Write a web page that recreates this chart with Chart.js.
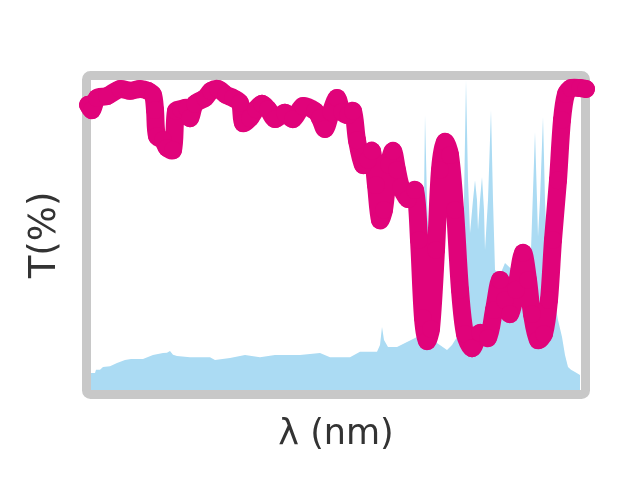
<!DOCTYPE html>
<html lang="en">
<head>
    <meta charset="UTF-8">
    <title>Transmission and spectrum</title>
    <script src="https://cdn.jsdelivr.net/npm/chart.js"></script>
    <style>
        html, body { margin: 0; padding: 0; background: #fff; }
        canvas { display: block; }
    </style>
</head>
<body>
    <canvas id="myChart" width="640" height="480"></canvas>

    <script>
        // Transmission curve (magenta), wavelength in nm and T in %
        const transWl = [397, 401, 406, 416, 429, 439, 449, 457, 462, 464, 466, 472, 476, 482, 485, 490, 496, 499, 504,
            514, 520, 527, 535, 542, 549, 552, 559, 565, 571, 577, 584, 594, 602, 612, 624, 629, 634, 640, 646,
            651, 657, 662, 666, 672, 677, 681, 685, 689, 693, 698, 702, 706, 710, 717, 724, 728, 732, 736, 740,
            745, 749, 754, 759, 764, 769, 774, 781, 789, 797, 803, 809, 814, 819, 825, 832, 837, 841, 847, 853,
            858, 862, 867, 871, 875, 880, 889, 895];
        const transT = [92.0, 90.3, 94.2, 94.8, 97.1, 96.5, 97.1, 96.5, 95.2, 90.3, 81.9, 80.6, 78.1, 77.4, 90.0, 90.6, 91.0, 87.7, 92.3,
            94.2, 96.5, 97.1, 95.2, 94.2, 92.6, 86.1, 87.7, 90.6, 92.3, 90.6, 87.4, 89.4, 87.4, 91.6, 90.0, 87.7, 84.2, 89.7, 94.2,
            89.7, 88.7, 90.0, 80.6, 72.6, 74.2, 77.1, 66.1, 54.8, 58.1, 72.6, 77.1, 71.0, 65.5, 61.6, 64.5, 48.4, 23.2, 15.8, 19.7,
            45.2, 71.0, 80.0, 75.8, 58.1, 32.3, 18.1, 13.5, 18.4, 16.8, 25.8, 35.5, 29.0, 24.5, 32.3, 44.2, 35.5, 24.5, 16.1, 18.1,
            29.0, 48.4, 67.7, 87.1, 95.5, 97.4, 97.4, 97.1];

        // Emission spectrum (light blue area), same axes
        const specWl = [400, 404, 405, 409, 412, 419, 426, 434, 440, 452, 462, 472, 476, 479, 482, 486, 499, 519, 524, 539,
            554, 569, 584, 609, 629, 639, 659, 669, 686, 689, 691, 693, 697, 706, 716, 726, 730, 733, 734, 736,
            739, 743, 746, 756, 761, 766, 769, 771, 773, 775, 777, 779, 782, 784, 786, 787, 789, 791, 793, 794,
            797, 800, 802, 804, 809, 814, 819, 824, 831, 837, 840, 844, 846, 847, 849, 852, 854, 856, 860, 864,
            867, 871, 874, 877, 880, 884, 889];
        const specI = [5.5, 5.5, 6.5, 6.5, 7.4, 7.7, 8.7, 9.7, 10.0, 10.0, 11.3, 11.9, 12.0, 12.6, 11.4, 11.0, 10.6, 10.6, 9.7, 10.3,
            11.3, 10.6, 11.3, 11.3, 11.9, 10.6, 10.6, 12.3, 12.3, 14.5, 20.3, 16.1, 13.9, 13.9, 15.5, 17.1, 22.6, 61.3, 88.7, 61.3,
            38.7, 19.4, 15.2, 12.9, 14.5, 17.1, 22.6, 29.0, 61.3, 100, 67.7, 50.6, 61.3, 67.7, 61.3, 51.6, 61.3, 68.7, 58.1, 45.2,
            61.3, 90.3, 61.3, 38.7, 37.1, 41.0, 39.4, 38.7, 38.7, 33.2, 45.2, 83.2, 61.3, 49.4, 61.3, 88.1, 61.3, 44.2, 35.5, 28.1,
            22.6, 17.1, 11.3, 7.4, 6.5, 5.8, 4.8];

        const wlMin = 400;
        const wlMax = 890;

        // grey rounded frame around the plot area, under the data
        const framePlugin = {
            id: 'frame',
            beforeDatasetsDraw(chart) {
                const { ctx, chartArea } = chart;
                const w = 9;
                const x = chartArea.left - w / 2;
                const y = chartArea.top - w / 2;
                const width = chartArea.right - chartArea.left + w;
                const height = chartArea.bottom - chartArea.top + w;
                ctx.save();
                ctx.strokeStyle = '#c8c8c8';
                ctx.lineWidth = w;
                ctx.beginPath();
                ctx.roundRect(x, y, width, height, 4);
                ctx.stroke();
                ctx.restore();
            }
        };

        const magenta = '#e0037a';

        const ctx = document.getElementById('myChart').getContext('2d');
        const myChart = new Chart(ctx, {
            type: 'line',
            data: {
                datasets: [
                    {
                        label: 'T',
                        data: transWl.map((w, i) => ({ x: w, y: transT[i] })),
                        borderColor: magenta,
                        borderWidth: 18,
                        borderCapStyle: 'round',
                        borderJoinStyle: 'round',
                        pointRadius: 9,
                        pointBorderWidth: 0,
                        pointBackgroundColor: magenta,
                        pointBorderColor: magenta,
                        tension: 0.3,
                        fill: false,
                        clip: false,
                        order: 0
                    },
                    {
                        label: 'spectrum',
                        data: specWl.map((w, i) => ({ x: w, y: specI[i] })),
                        borderWidth: 0,
                        borderColor: 'rgba(0,0,0,0)',
                        backgroundColor: '#abdbf3',
                        pointRadius: 0,
                        tension: 0,
                        fill: 'origin',
                        order: 1
                    }
                ]
            },
            options: {
                responsive: false,
                animation: false,
                layout: {
                    padding: { left: 0, right: 59, top: 80, bottom: 0 }
                },
                plugins: {
                    legend: { display: false },
                    tooltip: { enabled: false }
                },
                scales: {
                    x: {
                        type: 'linear',
                        min: wlMin,
                        max: wlMax,
                        ticks: { display: false },
                        grid: { display: false },
                        border: { display: false },
                        title: {
                            display: true,
                            text: 'λ (nm)',
                            color: '#333',
                            font: { family: 'DejaVu Sans', size: 35 },
                            padding: { top: 0, bottom: 24 }
                        },
                        afterFit: (scale) => { scale.height = 90; }
                    },
                    y: {
                        min: 0,
                        max: 100,
                        ticks: { display: false },
                        grid: { display: false },
                        border: { display: false },
                        title: {
                            display: true,
                            text: 'T(%)',
                            color: '#333',
                            font: { family: 'DejaVu Sans', size: 37 },
                            padding: { top: 23, bottom: 0 }
                        },
                        afterFit: (scale) => { scale.width = 91; }
                    }
                }
            },
            plugins: [framePlugin]
        });
    </script>
</body>
</html>
